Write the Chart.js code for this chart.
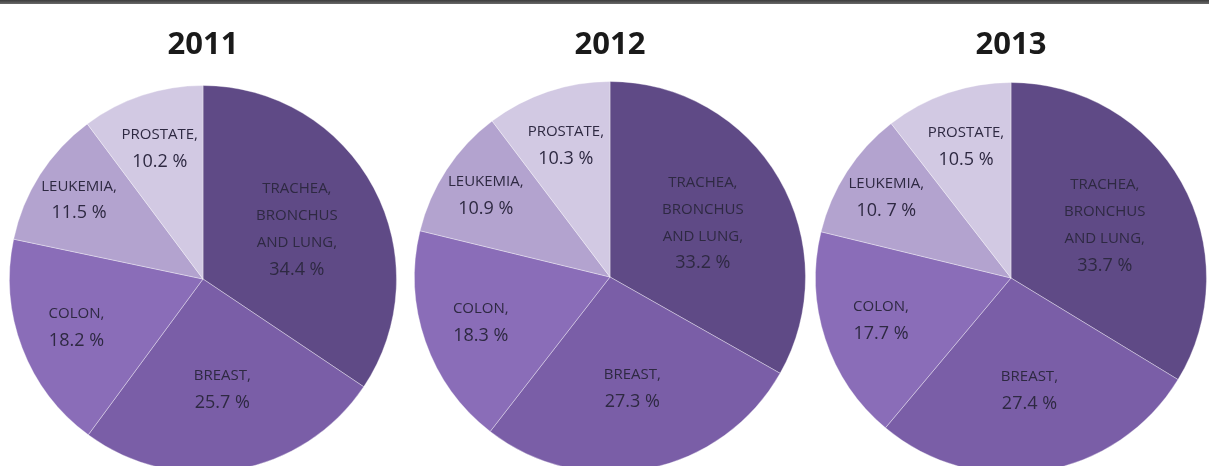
<!DOCTYPE html>
<html>
<head>
<meta charset="utf-8">
<script src="https://cdn.jsdelivr.net/npm/chart.js@4"></script>
<style>
  html, body { margin: 0; padding: 0; background: #fff; overflow: hidden; }
  body { width: 1209px; height: 466px; position: relative; }
  .topline { position: absolute; left: 0; top: 0; width: 1209px; height: 4px;
    background: linear-gradient(#3c3c3c, #6a6a6a); }
  canvas { position: absolute; }
</style>
</head>
<body>
<div class="topline"></div>
<canvas id="pie2011"></canvas>
<canvas id="pie2012"></canvas>
<canvas id="pie2013"></canvas>
<script>
// data
const years = ["2011", "2012", "2013"];
const categories = ["TRACHEA, BRONCHUS AND LUNG", "BREAST", "COLON", "LEUKEMIA", "PROSTATE"];
const values2011 = [34.4, 25.7, 18.2, 11.5, 10.2];
const values2012 = [33.2, 27.3, 18.3, 10.9, 10.3];
const values2013 = [33.7, 27.4, 17.7, 10.7, 10.5];
const valueText2013 = ["33.7 %", "27.4 %", "17.7 %", "10. 7 %", "10.5 %"];

// label lines for each slice (names wrap like in the original)
const nameLines = [["TRACHEA,", "BRONCHUS", "AND LUNG,"], ["BREAST,"], ["COLON,"], ["LEUKEMIA,"], ["PROSTATE,"]];

const colors = ["#5f4a86", "#7a5ea7", "#8a6db8", "#b3a3cf", "#d2c9e3"];

// how far out along the radius each label sits
const labelRadius = [0.55, 0.58, 0.70, 0.76, 0.71];

// pie placement on the page
const layouts = [
  { cx: 203, cy: 279, r: 194 },
  { cx: 610, cy: 277, r: 196 },
  { cx: 1011, cy: 278, r: 196 },
];

const sliceLabels = {
  id: "sliceLabels",
  afterDatasetsDraw(chart, args, opts) {
    const ctx = chart.ctx;
    const meta = chart.getDatasetMeta(0);
    ctx.save();
    ctx.textAlign = "center";
    ctx.textBaseline = "middle";
    meta.data.forEach((arc, i) => {
      const p = arc.getProps(["x", "y", "startAngle", "endAngle", "outerRadius"], true);
      const mid = (p.startAngle + p.endAngle) / 2;
      const d = p.outerRadius * labelRadius[i];
      const x = p.x + Math.cos(mid) * d;
      const y = p.y + Math.sin(mid) * d;
      const lines = nameLines[i];
      const total = lines.length + 1;
      const step = 27;
      let y0 = y - (step * (total - 1)) / 2;
      ctx.fillStyle = "#2e2942";
      ctx.font = "15px 'Open Sans'";
      lines.forEach((t, k) => ctx.fillText(t, x, y0 + k * step));
      ctx.font = "18px 'Open Sans'";
      ctx.fillText(opts.valueText[i], x, y0 + lines.length * step);
    });
    ctx.restore();
  },
};

function makePie(id, year, values, valueText, lay) {
  const canvas = document.getElementById(id);
  const w = 420;
  const top = lay.cy - lay.r;
  const h = top + lay.r * 2;
  canvas.width = w;
  canvas.height = h;
  canvas.style.width = w + "px";
  canvas.style.height = h + "px";
  canvas.style.left = (lay.cx - w / 2) + "px";
  canvas.style.top = "0px";
  return new Chart(canvas.getContext("2d"), {
    type: "pie",
    data: {
      labels: categories,
      datasets: [
        {
          data: values,
          backgroundColor: colors,
          borderColor: "rgba(255,255,255,0.35)",
          borderWidth: 1,
          hoverOffset: 0,
        },
      ],
    },
    options: {
      responsive: false,
      animation: false,
      events: [],
      layout: { padding: 0 },
      plugins: {
        legend: { display: false },
        tooltip: { enabled: false },
        title: {
          display: true,
          text: year,
          color: "#1a1a1a",
          font: { family: "'Open Sans'", size: 31, weight: "bold" },
          padding: { top: 27, bottom: top - 27 - 31 * 1.2 },
        },
        sliceLabels: { valueText: valueText },
      },
    },
    plugins: [sliceLabels],
  });
}

const fmt = (v) => v.toFixed(1) + " %";
makePie("pie2011", years[0], values2011, values2011.map(fmt), layouts[0]);
makePie("pie2012", years[1], values2012, values2012.map(fmt), layouts[1]);
makePie("pie2013", years[2], values2013, valueText2013, layouts[2]);
</script>
</body>
</html>
